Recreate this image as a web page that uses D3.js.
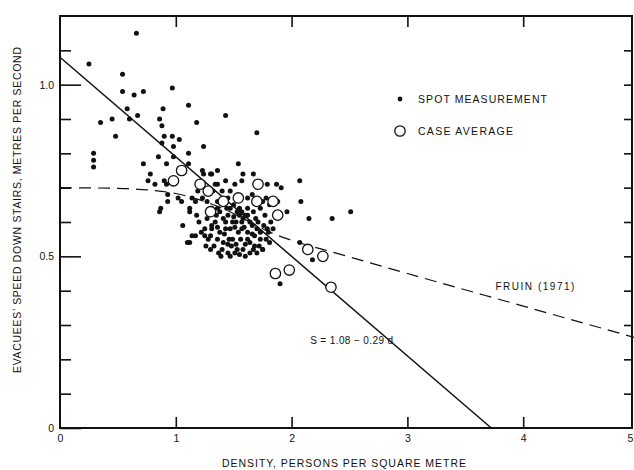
<!DOCTYPE html>
<html>
<head>
<meta charset="utf-8">
<script src="https://cdn.jsdelivr.net/npm/d3@7"></script>
<style>
  html, body { margin: 0; padding: 0; background: #fff; }
  svg { display: block; }
  text { font-family: "Liberation Sans", Arial, Helvetica, sans-serif; fill: #111; }
</style>
</head>
<body>
<svg id="chart" width="634" height="470"></svg>
<script>
// Spot measurements: density (persons/m²) and speed (m/s)
const spotDensity = [
  0.66, 0.25, 0.54, 0.54, 0.64, 0.72, 0.97, 1.11, 0.58, 0.60,
  0.67, 0.35, 0.45, 0.48, 0.89, 0.86, 0.88, 1.18, 0.90, 0.97,
  0.88, 1.03, 0.98, 1.24, 1.70, 1.43, 1.11, 0.85, 0.98, 0.72,
  0.92, 1.11, 1.54, 0.29, 0.29, 0.29, 1.23, 1.30, 1.24, 1.36,
  1.31, 1.58, 1.67, 1.43, 1.36, 1.51, 1.57, 1.79, 1.87, 1.91,
  2.07, 2.08, 2.15, 2.35, 2.51, 0.78, 0.82, 0.76, 0.90, 0.92,
  0.87, 0.93, 1.06, 0.93, 1.02, 1.05, 1.19, 1.14, 1.17, 1.12,
  1.34, 1.32, 1.36, 1.27, 1.31, 1.23, 1.47, 1.62, 1.62, 1.47,
  1.36, 1.57, 1.75, 1.81, 1.88, 1.96, 1.82, 1.84, 1.79, 1.75,
  2.07, 2.18, 1.90, 0.86, 1.12, 1.18, 1.27, 1.31, 1.14, 1.12,
  1.10, 1.17, 1.25, 1.30, 1.26, 1.36, 1.37,
  1.38, 1.45, 1.53, 1.62, 1.67, 1.77,
  1.34, 1.43, 1.49, 1.57, 1.66, 1.71,
  1.31, 1.38, 1.47, 1.54, 1.62, 1.70, 1.80,
  1.41, 1.49, 1.56, 1.64, 1.73, 1.81,
  1.40, 1.45, 1.51, 1.58, 1.64, 1.70, 1.75,
  1.42, 1.51, 1.59, 1.66, 1.52, 1.60, 1.45, 1.68, 1.36, 1.41,
  1.50, 1.58, 1.64, 1.73, 1.46, 1.55,
  1.45, 1.50, 1.55, 1.66, 1.73, 1.78, 1.40,
  1.20, 1.22, 1.28, 1.33, 1.39, 1.47, 1.53, 1.60, 1.67, 1.72,
  1.78, 1.35, 1.44, 1.52, 1.60, 1.69, 1.76, 1.25, 1.30, 1.43,
  1.57, 1.48, 1.62, 1.68, 1.55
];
const spotSpeed = [
  1.15, 1.06, 1.03, 0.98, 0.97, 0.98, 0.99, 0.94, 0.93, 0.90,
  0.91, 0.89, 0.90, 0.85, 0.93, 0.90, 0.88, 0.89, 0.85, 0.85,
  0.83, 0.84, 0.82, 0.82, 0.86, 0.91, 0.80, 0.79, 0.79, 0.77,
  0.77, 0.77, 0.77, 0.80, 0.78, 0.76, 0.75, 0.74, 0.74, 0.75,
  0.74, 0.74, 0.74, 0.72, 0.71, 0.71, 0.72, 0.71, 0.71, 0.70,
  0.72, 0.66, 0.61, 0.61, 0.63, 0.74, 0.71, 0.72, 0.72, 0.71,
  0.64, 0.66, 0.59, 0.68, 0.67, 0.66, 0.69, 0.67, 0.66, 0.64,
  0.71, 0.69, 0.66, 0.66, 0.64, 0.67, 0.69, 0.67, 0.64, 0.64,
  0.64, 0.63, 0.66, 0.65, 0.66, 0.63, 0.60, 0.58, 0.58, 0.52,
  0.54, 0.49, 0.42, 0.63, 0.63, 0.62, 0.61, 0.59, 0.56, 0.54,
  0.54, 0.56, 0.56, 0.56, 0.53, 0.55, 0.51,
  0.63, 0.62, 0.63, 0.62, 0.63, 0.62,
  0.60, 0.60, 0.60, 0.60, 0.59, 0.60,
  0.58, 0.57, 0.58, 0.57, 0.57, 0.58, 0.57,
  0.54, 0.55, 0.55, 0.54, 0.55, 0.54,
  0.52, 0.51, 0.51, 0.52, 0.51, 0.51, 0.52,
  0.565, 0.585, 0.585, 0.565, 0.535, 0.535, 0.535, 0.53, 0.585, 0.61,
  0.615, 0.61, 0.60, 0.57, 0.55, 0.505,
  0.67, 0.65, 0.64, 0.68, 0.64, 0.67, 0.69,
  0.60, 0.57, 0.55, 0.53, 0.50, 0.50, 0.52, 0.50, 0.52, 0.53,
  0.55, 0.62, 0.64, 0.60, 0.62, 0.61, 0.59, 0.58, 0.52, 0.58,
  0.58, 0.53, 0.55, 0.56, 0.62
];

// Case averages
const caseDensity = [1.05, 0.98, 1.21, 1.28, 1.71, 1.41, 1.54, 1.70, 1.84, 1.88, 1.30, 2.14, 2.27, 1.86, 1.98, 2.34];
const caseSpeed   = [0.75, 0.72, 0.71, 0.69, 0.71, 0.66, 0.67, 0.66, 0.66, 0.62, 0.63, 0.52, 0.50, 0.45, 0.46, 0.41];

// Fruin (1971) relation, dashed
const fruinDensity = [0, 0.5, 0.8, 1.0, 1.2, 1.4, 1.6, 1.8, 2.0, 2.4, 3.0, 4.0, 5.0];
const fruinSpeed   = [0.70, 0.698, 0.692, 0.683, 0.665, 0.64, 0.607, 0.572, 0.547, 0.508, 0.45, 0.355, 0.26];

// Fitted line S = 1.08 - 0.29 d
const fitIntercept = 1.08;
const fitSlope = -0.29;

// Axis ticks
const xTickValues = [0, 1, 2, 3, 4, 5];
const xInnerTicks = [1, 2, 3, 4];
const yMajorTicks = [0, 0.5, 1.0];
const yMinorTicks = [0.1, 0.2, 0.3, 0.4, 0.6, 0.7, 0.8, 0.9, 1.1];
const yRightTicks = [0.1, 0.2, 0.3, 0.4, 0.5, 0.6, 0.7, 0.8, 0.9, 1.0, 1.1];
const yTickLabels = ["0", "0.5", "1.0"];

const svg = d3.select("#chart");

const plotLeft = 60, plotTop = 16, plotBottom = 428, plotRight = 632;
const x = d3.scaleLinear().domain([0, 5]).range([plotLeft, 639]);
const y = d3.scaleLinear().domain([0, 1.2]).range([plotBottom, plotTop]);

const frame = svg.append("g").attr("class", "frame");

// left axis: minor and major ticks pointing inward
frame.append("g")
  .attr("transform", `translate(${plotLeft},0)`)
  .call(d3.axisLeft(y).tickValues(yMinorTicks).tickSize(-11).tickSizeOuter(0).tickFormat(""))
  .call(g => g.select(".domain").remove());
frame.append("g")
  .attr("transform", `translate(${plotLeft},0)`)
  .call(d3.axisLeft(y).tickValues(yMajorTicks).tickSize(-21).tickSizeOuter(0).tickPadding(6)
    .tickFormat((d, i) => yTickLabels[i]))
  .call(g => g.select(".domain").remove());

// right axis
frame.append("g")
  .attr("transform", `translate(${plotRight},0)`)
  .call(d3.axisRight(y).tickValues(yRightTicks).tickSize(-8).tickSizeOuter(0).tickFormat(""))
  .call(g => g.select(".domain").remove());

// bottom axis; the last label sits against the page edge
frame.append("g")
  .attr("transform", `translate(0,${plotBottom})`)
  .call(d3.axisBottom(x).tickValues(xTickValues).tickSize(0).tickPadding(7).tickFormat(d3.format("d")))
  .call(g => g.select(".domain").remove())
  .call(g => g.selectAll(".tick text").filter(d => d === 5).attr("dx", -9));
frame.append("g")
  .attr("transform", `translate(0,${plotBottom})`)
  .call(d3.axisBottom(x).tickValues(xInnerTicks).tickSize(-11).tickSizeOuter(0).tickFormat(""))
  .call(g => g.select(".domain").remove());

// top axis
frame.append("g")
  .attr("transform", `translate(0,${plotTop})`)
  .call(d3.axisTop(x).tickValues(xInnerTicks).tickSize(-11).tickSizeOuter(0).tickFormat(""))
  .call(g => g.select(".domain").remove());

frame.selectAll(".tick line").attr("stroke", "#111").attr("stroke-width", 1.6);
frame.selectAll(".tick text")
  .attr("font-size", 10.5)
  .attr("font-family", "Liberation Sans, Arial, sans-serif")
  .attr("fill", "#111");

// plot border
frame.append("rect")
  .attr("x", plotLeft).attr("y", plotTop)
  .attr("width", plotRight - plotLeft).attr("height", plotBottom - plotTop)
  .attr("fill", "none").attr("stroke", "#111").attr("stroke-width", 2);

// Fruin dashed relation
const fruinLine = d3.line()
  .x((d, i) => x(fruinDensity[i]))
  .y((d, i) => y(fruinSpeed[i]))
  .curve(d3.curveMonotoneX);
svg.append("path")
  .datum(fruinDensity)
  .attr("d", fruinLine)
  .attr("fill", "none").attr("stroke", "#111")
  .attr("stroke-width", 1.2).attr("stroke-dasharray", "12,7");

// fitted regression line, from d = 0 down to S = 0
const dEnd = -fitIntercept / fitSlope;
const fitPts = [0, dEnd];
svg.append("path")
  .datum(fitPts)
  .attr("d", d3.line().x(d => x(d)).y(d => y(fitIntercept + fitSlope * d)))
  .attr("fill", "none").attr("stroke", "#111").attr("stroke-width", 1.5);

// spot measurements
svg.append("g").selectAll("circle")
  .data(spotDensity)
  .join("circle")
  .attr("cx", d => x(d))
  .attr("cy", (d, i) => y(spotSpeed[i]))
  .attr("r", 2.5)
  .attr("fill", "#111");

// case averages
svg.append("g").selectAll("circle")
  .data(caseDensity)
  .join("circle")
  .attr("cx", d => x(d))
  .attr("cy", (d, i) => y(caseSpeed[i]))
  .attr("r", 5.2)
  .attr("fill", "#fff")
  .attr("stroke", "#111")
  .attr("stroke-width", 1.3);

// legend
const legend = svg.append("g").attr("transform", "translate(400,99)");
legend.append("circle").attr("cx", 0).attr("cy", 0).attr("r", 2.4).attr("fill", "#111");
legend.append("text").attr("x", 18).attr("y", 0).attr("dy", "0.36em")
  .attr("font-size", 10.5).attr("textLength", 129).attr("lengthAdjust", "spacing")
  .text("SPOT MEASUREMENT");
legend.append("circle").attr("cx", 0).attr("cy", 32).attr("r", 5.2)
  .attr("fill", "#fff").attr("stroke", "#111").attr("stroke-width", 1.3);
legend.append("text").attr("x", 18).attr("y", 32).attr("dy", "0.36em")
  .attr("font-size", 10.5).attr("textLength", 95).attr("lengthAdjust", "spacing")
  .text("CASE AVERAGE");

// curve annotations
svg.append("text")
  .attr("x", x(3.76)).attr("y", y(0.412)).attr("dy", "0.36em")
  .attr("font-size", 10).attr("textLength", 79).attr("lengthAdjust", "spacing")
  .text("FRUIN (1971)");
svg.append("text")
  .attr("x", x(2.16)).attr("y", y(0.256)).attr("dy", "0.36em")
  .attr("font-size", 10).attr("textLength", 83).attr("lengthAdjust", "spacing")
  .text("S = 1.08 − 0.29 d");

// axis titles
svg.append("text")
  .attr("x", 344).attr("y", 463).attr("dy", "0.36em")
  .attr("text-anchor", "middle")
  .attr("font-size", 10.5).attr("textLength", 244).attr("lengthAdjust", "spacing")
  .text("DENSITY, PERSONS PER SQUARE METRE");
svg.append("text")
  .attr("transform", "translate(17,210) rotate(-90)")
  .attr("dy", "0.36em")
  .attr("text-anchor", "middle")
  .attr("font-size", 10.5).attr("textLength", 326).attr("lengthAdjust", "spacing")
  .text("EVACUEES’ SPEED DOWN STAIRS, METRES PER SECOND");
</script>
</body>
</html>
